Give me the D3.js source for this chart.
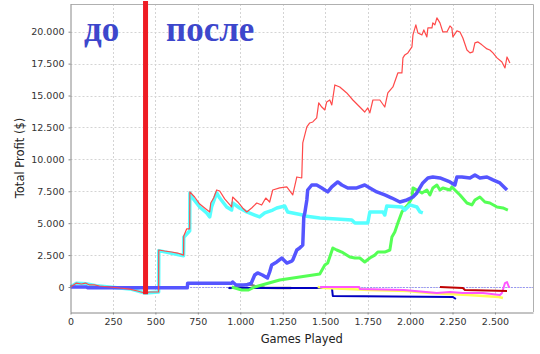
<!DOCTYPE html>
<html>
<head>
<meta charset="utf-8">
<script src="https://cdn.jsdelivr.net/npm/d3@7"></script>
<style>
  body { margin: 0; background: #fff; }
  svg { display: block; font-family: "DejaVu Sans", sans-serif; }
</style>
</head>
<body>
<script>
// chart size
var width = 540,
    height = 354;

// plot box (names avoid clashing with window.top)
var plotLeft = 70.5, plotRight = 533, plotTop = 4, plotBottom = 312;

// tick values
var xTicks = [0, 250, 500, 750, 1000, 1250, 1500, 1750, 2000, 2250, 2500];
var yTicks = [0, 2500, 5000, 7500, 10000, 12500, 15000, 17500, 20000];

// series: [games played, total profit]
var redSeries = [[0,0],[18,160],[35,310],[65,235],[88,310],[112,160],[141,160],[171,80],[230,0],[289,-80],[348,-160],[395,-310],[436,-470],[466,-390],[519,-390],[520,2900],[554,2820],[595,2740],[631,2660],[666,2500],[667,4000],[684,4550],[702,4550],[703,7450],[731,7050],[761,6500],[790,6190],[820,5880],[826,6580],[843,6970],[861,7600],[879,7520],[908,6900],[949,6270],[955,7050],[985,6660],[1014,6190],[1038,5880],[1067,6190],[1097,6580],[1126,6420],[1150,6970],[1173,6660],[1191,7600],[1232,7760],[1274,7840],[1309,7210],[1333,8620],[1362,8540],[1368,11285],[1392,12540],[1409,12850],[1427,12930],[1450,13245],[1462,14420],[1480,14100],[1498,13870],[1509,14500],[1527,14650],[1539,14260],[1557,15830],[1586,15670],[1627,15200],[1663,14650],[1704,14100],[1733,13710],[1751,14030],[1763,13640],[1781,14650],[1822,14650],[1851,14100],[1869,15200],[1899,15670],[1928,16770],[1952,16770],[1958,17950],[1969,18180],[1987,18340],[2011,18810],[2017,19750],[2034,20530],[2046,19900],[2070,19750],[2081,20140],[2099,19590],[2105,20300],[2129,20300],[2134,20690],[2146,20530],[2158,21080],[2176,20690],[2193,19980],[2217,19980],[2235,20450],[2246,20300],[2252,19590],[2276,20060],[2294,19980],[2311,19510],[2335,18570],[2353,18340],[2370,18420],[2382,19120],[2400,19200],[2423,18970],[2453,18650],[2470,18570],[2488,18340],[2512,17950],[2541,17630],[2559,17160],[2571,18020],[2588,17550]];

var cyanSeries = [[0,0],[35,300],[90,250],[150,100],[230,0],[350,-150],[440,-470],[519,-400],[520,2850],[666,2450],[667,3900],[702,4400],[703,7370],[719,6970],[761,6270],[802,5800],[820,5490],[831,6270],[861,7370],[879,6970],[920,6270],[949,6030],[955,6580],[996,6190],[1038,5880],[1085,5640],[1114,5490],[1144,5800],[1191,6030],[1215,6190],[1262,6350],[1279,5880],[1309,5800],[1368,5640],[1380,5560],[1468,5410],[1568,5330],[1657,5250],[1675,5020],[1751,5020],[1763,5880],[1840,5880],[1851,5640],[1863,6350],[1952,6270],[1969,6030],[1999,6430],[2040,6270],[2058,5880],[2075,5800]];

var blueSeries = [[0,0],[95,0],[100,-60],[688,-60],[690,300],[950,300],[955,390],[975,160],[1040,160],[1065,310],[1085,940],[1102,1100],[1130,940],[1160,705],[1173,1175],[1185,1724],[1215,1960],[1244,2270],[1274,1880],[1303,2030],[1309,2115],[1333,2900],[1350,3056],[1368,3290],[1374,5490],[1380,5800],[1392,6820],[1397,7600],[1421,7990],[1450,7990],[1480,7760],[1515,7450],[1539,7840],[1574,8230],[1598,7990],[1633,7760],[1686,7760],[1733,7990],[1763,7760],[1804,7450],[1851,7210],[1893,6970],[1940,6660],[1981,6820],[2017,7050],[2040,7370],[2075,8150],[2105,8540],[2134,8620],[2176,8540],[2235,8230],[2264,7990],[2276,8620],[2305,8620],[2353,8540],[2382,8780],[2411,8540],[2453,8620],[2488,8390],[2529,8150],[2571,7600]];

var greenSeries = [[950,0],[969,-80],[1008,-235],[1049,-235],[1085,0],[1232,550],[1468,1020],[1498,1724],[1515,1880],[1545,3056],[1568,2900],[1598,2740],[1645,2350],[1675,2270],[1704,2270],[1733,1960],[1763,2270],[1792,2500],[1810,2740],[1851,2740],[1881,2900],[1893,3920],[1910,4310],[1928,5020],[1952,5880],[1969,6190],[1987,6430],[2011,6970],[2017,7760],[2040,7600],[2070,7370],[2099,7600],[2117,7210],[2134,7760],[2158,7990],[2176,7600],[2193,7760],[2235,7600],[2246,7840],[2264,7600],[2294,7210],[2335,6580],[2364,6430],[2382,6820],[2411,7050],[2441,6660],[2470,6580],[2512,6270],[2547,6190],[2576,6030]];

var graySeries = [[935,-80],[955,-50],[1003,80],[1044,230],[1085,80],[1144,-50],[1220,-80],[1300,-80]];

var navySeries = [[930,-80],[1540,-80],[1545,-705],[2252,-780],[2270,-940]];

var yellowSeries = [[1456,0],[1500,-80],[1763,-235],[1987,-310],[2046,-390],[2123,-470],[2223,-550],[2341,-630],[2523,-780],[2547,-860]];

var pinkSeries = [[1470,0],[1700,0],[1705,-160],[1963,-235],[2158,-470],[2235,-390],[2311,-470],[2429,-470],[2529,-630],[2541,-470],[2559,310],[2571,390],[2582,0],[2588,0]];

var darkRedSeries = [[2176,0],[2311,-80],[2323,-235],[2571,-310]];

// the "before / after" marker
var markerGame = 442;
var markerRange = [-560, 22400];

// colours
var colors = {
  red: '#ff4a4a', cyan: '#55ffff', blue: '#5555ff', green: '#55ff55',
  gray: '#808080', navy: '#0000c0', yellow: '#ffff55', pink: '#ff55ff', darkRed: '#c00000'
};

var svg = d3.select('body')
  .append('svg')
  .attr('width', width)
  .attr('height', height);

// scales
var x = d3.scaleLinear().domain([0, 2724]).range([plotLeft, plotRight]);
var y = d3.scaleLinear().domain([-1958, 22170]).range([plotBottom, plotTop]);

// number format with dot as thousands separator
var fmt = function(d) { return d3.format(',')(d).replace(/,/g, '.'); };

// gridlines
svg.append('g')
  .selectAll('line')
  .data(xTicks.slice(1))
  .enter().append('line')
  .attr('x1', function(d) { return Math.round(x(d)) + 0.5; })
  .attr('x2', function(d) { return Math.round(x(d)) + 0.5; })
  .attr('y1', plotTop).attr('y2', plotBottom)
  .attr('stroke', '#d4d4d4')
  .attr('stroke-dasharray', '2,2');

svg.append('g')
  .selectAll('line')
  .data(yTicks)
  .enter().append('line')
  .attr('x1', plotLeft).attr('x2', plotRight)
  .attr('y1', function(d) { return Math.round(y(d)) + 0.5; })
  .attr('y2', function(d) { return Math.round(y(d)) + 0.5; })
  .attr('stroke', '#d4d4d4')
  .attr('stroke-dasharray', '2,2');

// plot outline (top and right)
svg.append('path')
  .attr('d', 'M' + plotLeft + ',' + (plotTop + 0.5) + 'H' + (plotRight + 0.5) + 'V' + plotBottom)
  .attr('fill', 'none')
  .attr('stroke', '#b0b0b0');

// zero line, dotted blue
svg.append('line')
  .attr('x1', plotLeft).attr('x2', plotRight)
  .attr('y1', Math.round(y(0)) + 0.5).attr('y2', Math.round(y(0)) + 0.5)
  .attr('stroke', '#5555ff')
  .attr('stroke-width', 1)
  .attr('stroke-dasharray', '1,2');

var line = d3.line()
  .x(function(d) { return x(d[0]); })
  .y(function(d) { return y(d[1]); });

// series in drawing order (last on top)
var series = [
  { data: graySeries, color: colors.gray, w: 2.5 },
  { data: navySeries, color: colors.navy, w: 2 },
  { data: yellowSeries, color: colors.yellow, w: 2.5 },
  { data: pinkSeries, color: colors.pink, w: 2 },
  { data: darkRedSeries, color: colors.darkRed, w: 2 },
  { data: greenSeries, color: colors.green, w: 3 },
  { data: cyanSeries, color: colors.cyan, w: 3.5 },
  { data: blueSeries, color: colors.blue, w: 3.5 },
  { data: redSeries, color: colors.red, w: 1.2 }
];

svg.append('g')
  .selectAll('path')
  .data(series)
  .enter().append('path')
  .attr('d', function(d) { return line(d.data); })
  .attr('fill', 'none')
  .attr('stroke', function(d) { return d.color; })
  .attr('stroke-width', function(d) { return d.w; })
  .attr('stroke-linejoin', 'round');

// red marker
svg.append('line')
  .attr('x1', x(markerGame)).attr('x2', x(markerGame))
  .attr('y1', y(markerRange[1])).attr('y2', y(markerRange[0]))
  .attr('stroke', '#ee1c24')
  .attr('stroke-width', 5);

// labels before / after
var noteStyle = function(sel) {
  sel.attr('font-family', '"Liberation Serif", "DejaVu Serif", serif')
    .attr('font-weight', 'bold')
    .attr('font-size', 35)
    .attr('fill', '#3d47cc');
};
svg.append('text').attr('x', 84).attr('y', 41).text('до').call(noteStyle);
svg.append('text').attr('x', 166).attr('y', 41).text('после').call(noteStyle);

// axes
var xAxis = svg.append('g')
  .attr('transform', 'translate(0,' + (plotBottom + 0.5) + ')')
  .call(d3.axisBottom(x).tickValues(xTicks).tickFormat(fmt).tickSizeInner(2).tickSizeOuter(0).tickPadding(4));

var yAxis = svg.append('g')
  .attr('transform', 'translate(' + plotLeft + ',0)')
  .call(d3.axisLeft(y).tickValues(yTicks).tickFormat(fmt).tickSizeInner(2).tickSizeOuter(0).tickPadding(4));

[xAxis, yAxis].forEach(function(a) {
  a.select('.domain').attr('stroke', '#888');
  a.selectAll('.tick line').attr('stroke', '#888');
  a.selectAll('text')
    .attr('fill', '#333')
    .attr('font-size', 9.5)
    .attr('font-family', '"DejaVu Sans", sans-serif');
});

// axis titles
svg.append('text')
  .attr('x', (plotLeft + plotRight) / 2)
  .attr('y', 343)
  .attr('text-anchor', 'middle')
  .attr('font-size', 11.5)
  .attr('fill', '#222')
  .text('Games Played');

svg.append('text')
  .attr('transform', 'translate(24,' + (plotTop + plotBottom) / 2 + ') rotate(-90)')
  .attr('text-anchor', 'middle')
  .attr('font-size', 11.5)
  .attr('fill', '#222')
  .text('Total Profit ($)');
</script>
</body>
</html>
